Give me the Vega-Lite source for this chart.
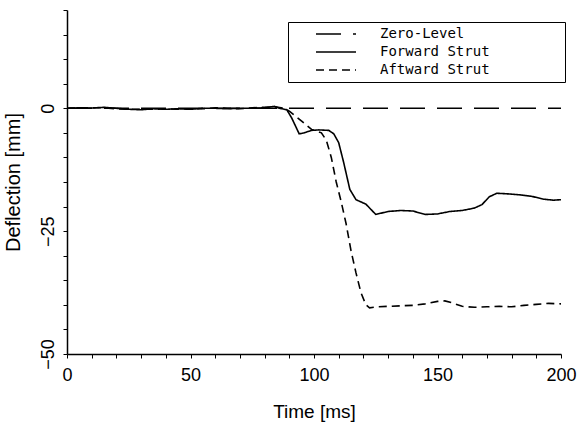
{
  "$schema": "https://vega.github.io/schema/vega-lite/v6.json",
  "width": 494,
  "height": 344,
  "autosize": "none",
  "padding": {"left": 67, "top": 10, "right": 23, "bottom": 68},
  "background": "white",
  "config": {
    "view": {"stroke": null},
    "axis": {
      "grid": false,
      "domainColor": "black",
      "domainWidth": 1.5,
      "tickColor": "black",
      "tickWidth": 1,
      "tickSize": 4,
      "labelColor": "black",
      "titleColor": "black",
      "labelFont": "Liberation Sans",
      "titleFont": "Liberation Sans",
      "labelFontSize": 18,
      "titleFontSize": 19,
      "titleFontWeight": "normal"
    }
  },
  "datasets": {
    "curves": [
      {"t": 0, "d": 0, "series": "Zero-Level"},
      {"t": 200, "d": 0, "series": "Zero-Level"},

      {"t": 0, "d": 0, "series": "Forward Strut"},
      {"t": 5, "d": 0.1, "series": "Forward Strut"},
      {"t": 10, "d": 0.05, "series": "Forward Strut"},
      {"t": 15, "d": 0.2, "series": "Forward Strut"},
      {"t": 20, "d": 0, "series": "Forward Strut"},
      {"t": 25, "d": -0.2, "series": "Forward Strut"},
      {"t": 30, "d": -0.3, "series": "Forward Strut"},
      {"t": 35, "d": -0.1, "series": "Forward Strut"},
      {"t": 40, "d": -0.2, "series": "Forward Strut"},
      {"t": 45, "d": -0.1, "series": "Forward Strut"},
      {"t": 50, "d": -0.2, "series": "Forward Strut"},
      {"t": 55, "d": 0, "series": "Forward Strut"},
      {"t": 60, "d": 0, "series": "Forward Strut"},
      {"t": 65, "d": -0.1, "series": "Forward Strut"},
      {"t": 70, "d": 0, "series": "Forward Strut"},
      {"t": 75, "d": 0, "series": "Forward Strut"},
      {"t": 80, "d": 0.1, "series": "Forward Strut"},
      {"t": 84, "d": 0.4, "series": "Forward Strut"},
      {"t": 86, "d": 0, "series": "Forward Strut"},
      {"t": 89, "d": -0.3, "series": "Forward Strut"},
      {"t": 91, "d": -2, "series": "Forward Strut"},
      {"t": 94, "d": -5.2, "series": "Forward Strut"},
      {"t": 96, "d": -5, "series": "Forward Strut"},
      {"t": 99, "d": -4.5, "series": "Forward Strut"},
      {"t": 102, "d": -4.4, "series": "Forward Strut"},
      {"t": 106, "d": -4.5, "series": "Forward Strut"},
      {"t": 108, "d": -5.2, "series": "Forward Strut"},
      {"t": 110, "d": -7, "series": "Forward Strut"},
      {"t": 112, "d": -11, "series": "Forward Strut"},
      {"t": 114.5, "d": -16.5, "series": "Forward Strut"},
      {"t": 117, "d": -18.6, "series": "Forward Strut"},
      {"t": 121, "d": -19.5, "series": "Forward Strut"},
      {"t": 125, "d": -21.6, "series": "Forward Strut"},
      {"t": 130, "d": -21, "series": "Forward Strut"},
      {"t": 135, "d": -20.8, "series": "Forward Strut"},
      {"t": 140, "d": -20.9, "series": "Forward Strut"},
      {"t": 145, "d": -21.6, "series": "Forward Strut"},
      {"t": 150, "d": -21.5, "series": "Forward Strut"},
      {"t": 155, "d": -21, "series": "Forward Strut"},
      {"t": 160, "d": -20.8, "series": "Forward Strut"},
      {"t": 165, "d": -20.3, "series": "Forward Strut"},
      {"t": 168, "d": -19.6, "series": "Forward Strut"},
      {"t": 171, "d": -18, "series": "Forward Strut"},
      {"t": 174, "d": -17.3, "series": "Forward Strut"},
      {"t": 178, "d": -17.4, "series": "Forward Strut"},
      {"t": 183, "d": -17.6, "series": "Forward Strut"},
      {"t": 188, "d": -17.9, "series": "Forward Strut"},
      {"t": 193, "d": -18.5, "series": "Forward Strut"},
      {"t": 197, "d": -18.7, "series": "Forward Strut"},
      {"t": 200, "d": -18.6, "series": "Forward Strut"},

      {"t": 0, "d": 0, "series": "Aftward Strut"},
      {"t": 5, "d": 0.05, "series": "Aftward Strut"},
      {"t": 10, "d": 0.1, "series": "Aftward Strut"},
      {"t": 15, "d": 0.1, "series": "Aftward Strut"},
      {"t": 20, "d": -0.1, "series": "Aftward Strut"},
      {"t": 25, "d": -0.2, "series": "Aftward Strut"},
      {"t": 30, "d": -0.2, "series": "Aftward Strut"},
      {"t": 35, "d": -0.2, "series": "Aftward Strut"},
      {"t": 40, "d": -0.1, "series": "Aftward Strut"},
      {"t": 45, "d": -0.2, "series": "Aftward Strut"},
      {"t": 50, "d": -0.1, "series": "Aftward Strut"},
      {"t": 55, "d": -0.1, "series": "Aftward Strut"},
      {"t": 60, "d": 0.1, "series": "Aftward Strut"},
      {"t": 65, "d": 0, "series": "Aftward Strut"},
      {"t": 70, "d": -0.1, "series": "Aftward Strut"},
      {"t": 75, "d": 0.1, "series": "Aftward Strut"},
      {"t": 80, "d": 0.2, "series": "Aftward Strut"},
      {"t": 84, "d": 0.3, "series": "Aftward Strut"},
      {"t": 88, "d": 0, "series": "Aftward Strut"},
      {"t": 90, "d": -0.6, "series": "Aftward Strut"},
      {"t": 95, "d": -2.6, "series": "Aftward Strut"},
      {"t": 99, "d": -4.3, "series": "Aftward Strut"},
      {"t": 103, "d": -5, "series": "Aftward Strut"},
      {"t": 105, "d": -6.5, "series": "Aftward Strut"},
      {"t": 107, "d": -10, "series": "Aftward Strut"},
      {"t": 109, "d": -15, "series": "Aftward Strut"},
      {"t": 111, "d": -19, "series": "Aftward Strut"},
      {"t": 113, "d": -23.5, "series": "Aftward Strut"},
      {"t": 115, "d": -29, "series": "Aftward Strut"},
      {"t": 117, "d": -33.5, "series": "Aftward Strut"},
      {"t": 119, "d": -37.5, "series": "Aftward Strut"},
      {"t": 121, "d": -40, "series": "Aftward Strut"},
      {"t": 122.5, "d": -40.6, "series": "Aftward Strut"},
      {"t": 126, "d": -40.4, "series": "Aftward Strut"},
      {"t": 130, "d": -40.3, "series": "Aftward Strut"},
      {"t": 135, "d": -40.2, "series": "Aftward Strut"},
      {"t": 140, "d": -40.1, "series": "Aftward Strut"},
      {"t": 145, "d": -39.8, "series": "Aftward Strut"},
      {"t": 150, "d": -39.3, "series": "Aftward Strut"},
      {"t": 153, "d": -39.2, "series": "Aftward Strut"},
      {"t": 156, "d": -39.6, "series": "Aftward Strut"},
      {"t": 160, "d": -40.3, "series": "Aftward Strut"},
      {"t": 165, "d": -40.5, "series": "Aftward Strut"},
      {"t": 170, "d": -40.4, "series": "Aftward Strut"},
      {"t": 175, "d": -40.3, "series": "Aftward Strut"},
      {"t": 180, "d": -40.4, "series": "Aftward Strut"},
      {"t": 185, "d": -40.1, "series": "Aftward Strut"},
      {"t": 190, "d": -39.9, "series": "Aftward Strut"},
      {"t": 195, "d": -39.7, "series": "Aftward Strut"},
      {"t": 200, "d": -39.8, "series": "Aftward Strut"}
    ]
  },
  "data": {"name": "curves"},
  "mark": {"type": "line", "color": "black", "strokeWidth": 1.6, "clip": true},
  "encoding": {
    "x": {
      "field": "t",
      "type": "quantitative",
      "scale": {"domain": [0, 200], "nice": false, "zero": false},
      "axis": {
        "title": "Time [ms]",
        "values": [0, 10, 20, 30, 40, 50, 60, 70, 80, 90, 100, 110, 120, 130, 140, 150, 160, 170, 180, 190, 200],
        "labelExpr": "datum.value % 50 == 0 ? datum.label : ''",
        "labelPadding": 8,
        "titlePadding": 18,
        "labelFlush": false,
        "labelOverlap": false
      }
    },
    "y": {
      "field": "d",
      "type": "quantitative",
      "scale": {"domain": [-50, 20], "nice": false, "zero": false},
      "axis": {
        "title": "Deflection [mm]",
        "titleFontSize": 20,
        "values": [-50, -45, -40, -35, -30, -25, -20, -15, -10, -5, 0, 5, 10, 15, 20],
        "labelExpr": "datum.value % 25 == 0 ? datum.label : ''",
        "labelAngle": -90,
        "labelPadding": 6,
        "titlePadding": 16,
        "labelFlush": false,
        "labelOverlap": false
      }
    },
    "detail": {"field": "series"},
    "strokeDash": {
      "field": "series",
      "type": "nominal",
      "scale": {
        "domain": ["Zero-Level", "Forward Strut", "Aftward Strut"],
        "range": [[25, 12], [1, 0], [8, 5]]
      },
      "legend": {
        "title": null,
        "orient": "none",
        "legendX": 221,
        "legendY": 12,
        "symbolType": "stroke",
        "symbolSize": 1600,
        "symbolStrokeColor": "black",
        "symbolStrokeWidth": 1.5,
        "symbolOffset": 22,
        "clipHeight": 14,
        "rowPadding": 4,
        "labelOffset": 23,
        "labelFont": "DejaVu Sans Mono",
        "labelFontSize": 14,
        "labelColor": "black",
        "labelLimit": 400,
        "labelExpr": "datum.label + '\u2800\u2800\u2800\u2800\u2800\u2800\u2800'",
        "padding": 5,
        "strokeColor": "black",
        "fillColor": "white"
      }
    }
  }
}
